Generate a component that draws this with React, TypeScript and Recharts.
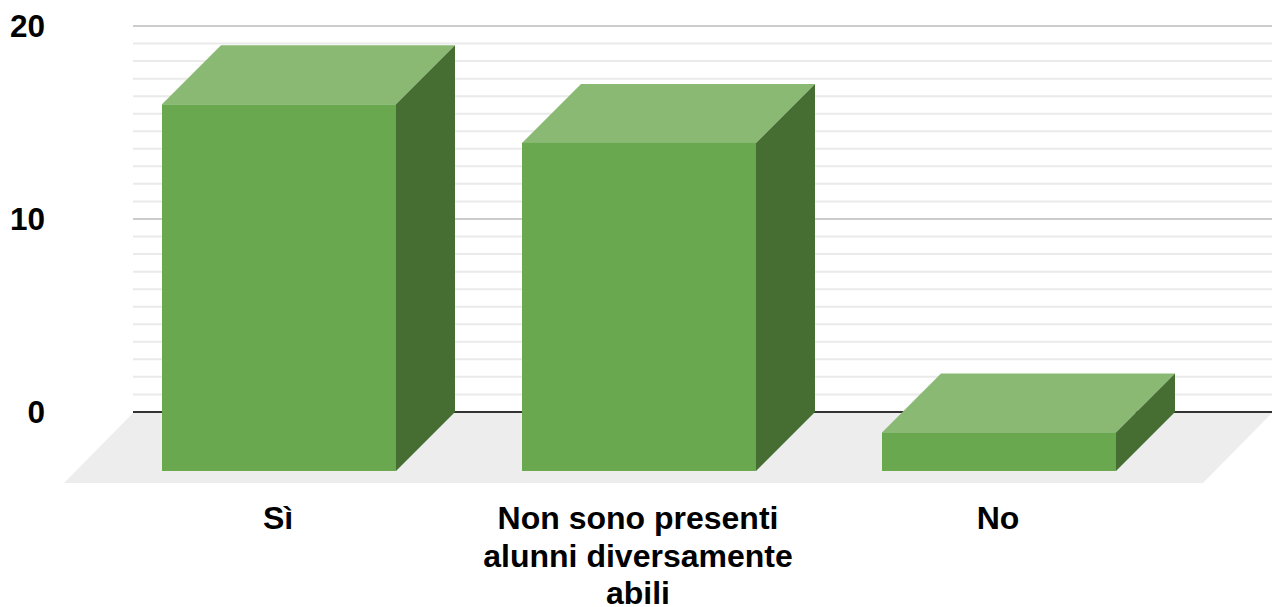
import {
  BarChart,
  Bar,
  XAxis,
  YAxis,
  CartesianGrid,
  ReferenceArea,
} from 'recharts';

const categories = ['Sì', 'Non sono presenti alunni diversamente abili', 'No'];
const values = [19, 17, 2];
const tickLabels = [['Sì'], ['Non sono presenti', 'alunni diversamente', 'abili'], ['No']];
const majorTicks = [0, 10, 20];
const gridMajor = [10, 20];
const gridBase = [0];
const minorTicks = [
  0.91, 1.82, 2.73, 3.64, 4.55, 5.45, 6.36, 7.27, 8.18, 9.09,
  10.91, 11.82, 12.73, 13.64, 14.55, 15.45, 16.36, 17.27, 18.18, 19.09,
];
const floorBottom = -3.68;

const DEPTH = 59;
const FLOOR_SHIFT = 69;
const PAD_LEFT = 25;
const PAD_RIGHT = 34;
const FONT = '"Liberation Sans", Arial, sans-serif';

const chartData = categories.map((name, i) => ({ name, value: values[i] }));

function Bar3D({ x, y, width, height }: any) {
  const d = DEPTH;
  return (
    <g>
      <polygon
        points={`${x},${y} ${x + width},${y} ${x + width - d},${y + d} ${x - d},${y + d}`}
        fill="#8AB973"
      />
      <polygon
        points={`${x + width},${y} ${x + width},${y + height} ${x + width - d},${y + height + d} ${x + width - d},${y + d}`}
        fill="#466E33"
      />
      <rect x={x - d} y={y + d} width={width} height={height} fill="#6AA84F" />
    </g>
  );
}

function Floor({ x, y, width, height }: any) {
  const left = x - PAD_LEFT;
  const right = x + width + PAD_RIGHT;
  return (
    <polygon
      points={`${left},${y + 1} ${right},${y + 1} ${right - FLOOR_SHIFT},${y + height} ${left - FLOOR_SHIFT},${y + height}`}
      fill="#EDEDED"
    />
  );
}

function CategoryTick({ x, y, index }: any) {
  const lines = tickLabels[index] ?? [];
  const cx = x - DEPTH - 1;
  return (
    <text
      x={cx}
      y={y + 38}
      textAnchor="middle"
      fontFamily={FONT}
      fontWeight="bold"
      fontSize={32}
      fill="#000"
    >
      {lines.map((line: string, i: number) => (
        <tspan key={line} x={cx} dy={i === 0 ? 0 : 37.5}>
          {line}
        </tspan>
      ))}
    </text>
  );
}

export default function App() {
  return (
    <div style={{ position: 'absolute', left: 0, top: 0, width: 1272, height: 607, background: '#fff' }}>
      <BarChart
        width={1272}
        height={607}
        data={chartData}
        margin={{ top: 26, right: 0, left: 0, bottom: 0 }}
      >
        <CartesianGrid vertical={false} horizontalValues={minorTicks} stroke="#EAEAEA" strokeWidth={2} />
        <CartesianGrid vertical={false} horizontalValues={gridMajor} stroke="#CCCCCC" strokeWidth={2} />
        <CartesianGrid vertical={false} horizontalValues={gridBase} stroke="#333333" strokeWidth={2} />
        <XAxis
          dataKey="name"
          axisLine={false}
          tickLine={false}
          interval={0}
          height={124}
          padding={{ left: PAD_LEFT, right: PAD_RIGHT }}
          tick={<CategoryTick />}
        />
        <YAxis
          type="number"
          domain={[floorBottom, 20]}
          ticks={majorTicks}
          interval={0}
          allowDataOverflow
          axisLine={false}
          tickLine={false}
          width={133}
          tickMargin={82}
          tick={{ fill: '#000', fontSize: 31.5, fontWeight: 'bold', fontFamily: FONT }}
        />
        <ReferenceArea y1={floorBottom} y2={0} shape={<Floor />} ifOverflow="visible" />
        <Bar dataKey="value" barSize={234} isAnimationActive={false} shape={<Bar3D />} />
      </BarChart>
    </div>
  );
}
